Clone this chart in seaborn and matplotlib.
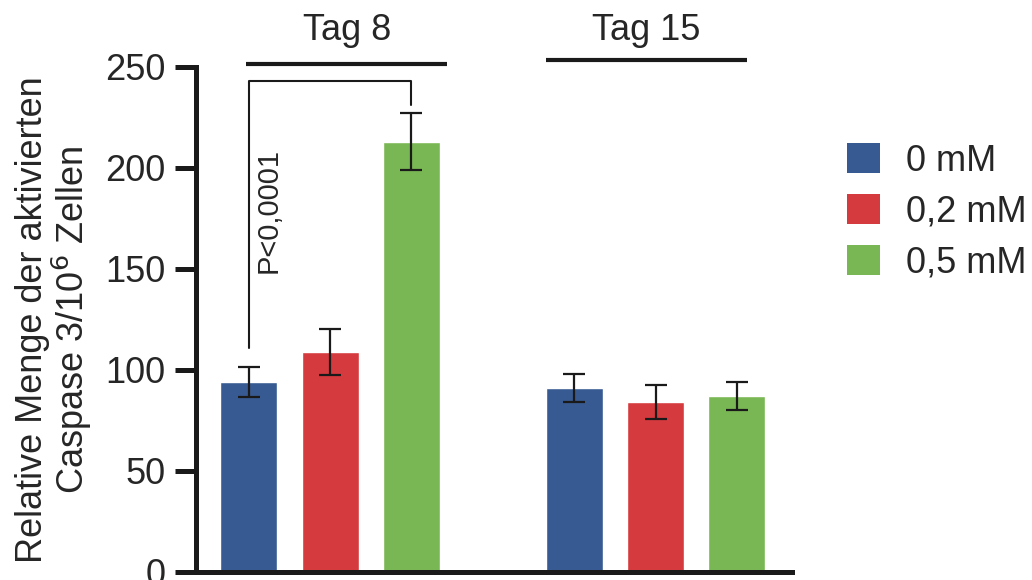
"""
Balkendiagramm: aktivierte Caspase 3 an Tag 8 und Tag 15.
"""
import matplotlib
matplotlib.use("Agg")
import matplotlib.pyplot as plt
import matplotlib.patches as mpatches
import pandas as pd
import seaborn as sns

# Daten
tage = ["Tag 8", "Tag 15"]
konzentrationen = ["0 mM", "0,2 mM", "0,5 mM"]
mittelwerte_tag8 = [94, 109, 213]
mittelwerte_tag15 = [91, 84, 87]
fehler_tag8 = [7.5, 11.5, 14]
fehler_tag15 = [7, 8.5, 7]
farben = ["#385A92", "#D53A3E", "#79B754"]
y_ticks = [0, 50, 100, 150, 200, 250]

df = pd.DataFrame({
    "tag": [tage[0]] * 3 + [tage[1]] * 3,
    "konz": konzentrationen * 2,
    "wert": mittelwerte_tag8 + mittelwerte_tag15,
    "fehler": fehler_tag8 + fehler_tag15,
})

sns.set_style("ticks")
plt.rcParams["font.family"] = ["Liberation Sans", "DejaVu Sans"]

fig = plt.figure(figsize=(10.32, 5.8), dpi=100)
ax = fig.add_axes([0.19, 0.0138, 0.577, 0.8707])

sns.barplot(data=df, x="tag", y="wert", hue="konz", order=tage,
            hue_order=konzentrationen, palette=farben, width=0.75, gap=0.3,
            errorbar=None, saturation=1, ax=ax, legend=False)

# Fehlerbalken an den Balkenmitten (Patches: nach hue, dann nach tag)
balken = ax.patches[:6]
for h in range(3):
    for t in range(2):
        b = balken[h * 2 + t]
        xm = b.get_x() + b.get_width() / 2
        sub = df[(df["tag"] == tage[t]) & (df["konz"] == konzentrationen[h])]
        ax.errorbar(xm, sub["wert"].iloc[0], yerr=sub["fehler"].iloc[0],
                    fmt="none", ecolor="#1a1a1a", elinewidth=1.6,
                    capsize=8, capthick=1.6)

ax.set_xlim(-0.412, 1.418)
ax.set_ylim(0, 250)
ax.set_yticks(y_ticks)
ax.set_xticks([])
ax.set_xlabel("")
ax.set_ylabel("Relative Menge der aktivierten\nCaspase 3/10$^6$ Zellen",
              fontsize=26, labelpad=8, linespacing=1.0)
ax.tick_params(axis="y", length=15, width=3.6, labelsize=26, pad=7,
               color="#1a1a1a")
sns.despine(ax=ax)
for s in ["left", "bottom"]:
    ax.spines[s].set_linewidth(3.6)
    ax.spines[s].set_color("#1a1a1a")

# Signifikanz-Klammer Tag 8: 0 mM gegen 0,5 mM
x_links = balken[0].get_x() + balken[0].get_width() / 2
x_rechts = balken[4].get_x() + balken[4].get_width() / 2
ax.plot([x_links, x_links, x_rechts, x_rechts], [111, 243, 243, 231],
        color="#1a1a1a", lw=1.5, clip_on=False)
ax.text(x_links + 0.062, 179, "P<0,0001", rotation=90, ha="center",
        va="center", fontsize=21)

# Gruppenlinien und Beschriftungen oben
spannen = [(-0.258, 0.36), (-0.338, 0.28)]
for t, (a, e) in enumerate(spannen):
    y_linie = 251.5 if t == 0 else 253.5
    ax.plot([t + a, t + e], [y_linie, y_linie], color="#1a1a1a", lw=3,
            clip_on=False, solid_capstyle="butt")
    ax.text(t + (a + e) / 2, 268, tage[t], ha="center", va="center",
            fontsize=26, clip_on=False)

# Legende
handles = [mpatches.Patch(facecolor=f, edgecolor="none") for f in farben]
fig.legend(handles, konzentrationen, loc="center left",
           bbox_to_anchor=(0.821, 0.635), frameon=False, fontsize=26,
           handlelength=0.92, handleheight=0.92, handletextpad=0.7,
           labelspacing=0.42, borderaxespad=0, borderpad=0)

fig.savefig("out.png", dpi=100)
